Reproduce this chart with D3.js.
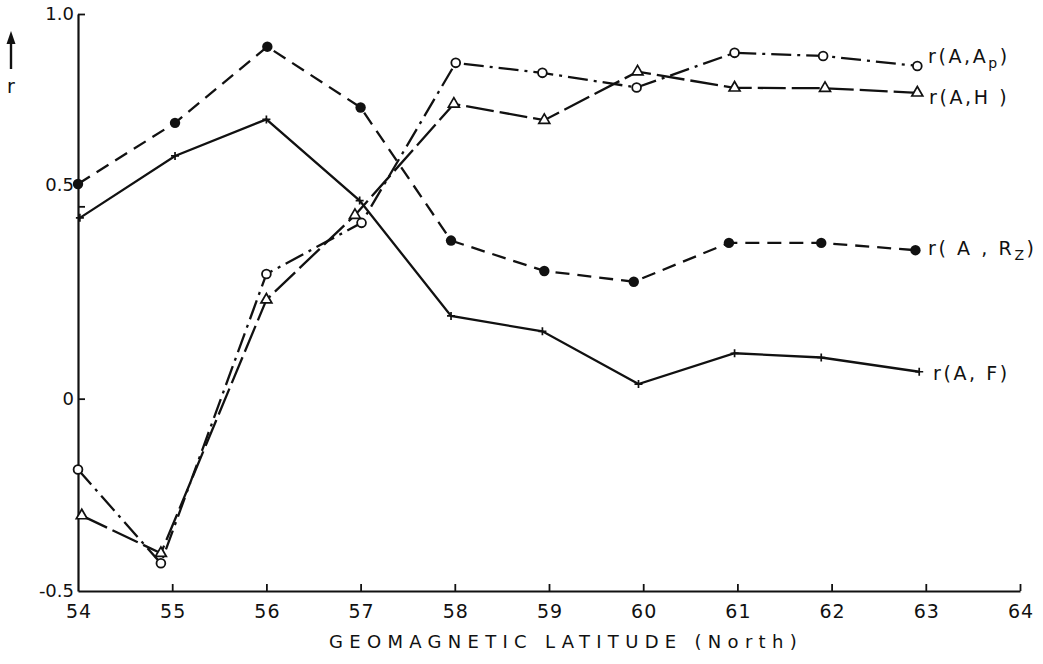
<!DOCTYPE html>
<html>
<head>
<meta charset="utf-8">
<script src="https://cdn.jsdelivr.net/npm/d3@7"></script>
<style>
  html, body { margin: 0; padding: 0; background: #fff; }
  svg { display: block; }
  text { font-family: "DejaVu Sans", sans-serif; fill: #111; }
</style>
</head>
<body>
<svg id="chart" width="1043" height="664"></svg>
<script>
// Correlation r of A with each index, by geomagnetic latitude
const latRz = [54.0, 55.03, 56.01, 57.0, 57.96, 58.95, 59.9, 60.91, 61.89, 62.89];
const rRz   = [0.558, 0.717, 0.915, 0.757, 0.411, 0.332, 0.304, 0.405, 0.405, 0.386];

const latF  = [54.02, 55.03, 56.0, 56.99, 57.96, 58.93, 59.95, 60.97, 61.89, 62.93];
const rF    = [0.470, 0.631, 0.726, 0.515, 0.215, 0.175, 0.038, 0.118, 0.107, 0.070];

const latAp = [54.0, 54.88, 56.0, 57.01, 58.01, 58.93, 59.93, 60.97, 61.91, 62.91];
const rAp   = [-0.184, -0.428, 0.324, 0.457, 0.873, 0.847, 0.809, 0.899, 0.891, 0.865];

const latH  = [54.04, 54.88, 56.0, 56.94, 57.99, 58.95, 59.94, 60.97, 61.93, 62.91];
const rH    = [-0.304, -0.402, 0.257, 0.477, 0.766, 0.724, 0.850, 0.808, 0.807, 0.795];

const xTicks = [54, 55, 56, 57, 58, 59, 60, 61, 62, 63, 64];
const yTicks = [-0.5, 0, 0.5, 1.0];
const xTitle = "GEOMAGNETIC LATITUDE (North)";

const svg = d3.select("#chart");
const x = d3.scaleLinear().domain([54, 64]).range([78, 1020]);
const y = d3.scaleLinear().domain([-0.5, 1.0]).range([591, 14]);

// axes
const xAxis = svg.append("g")
  .attr("transform", `translate(0,${y(-0.5)})`)
  .call(d3.axisBottom(x).tickValues(xTicks).tickSizeInner(-7).tickSizeOuter(0)
        .tickPadding(14).tickFormat(d3.format("d")));
xAxis.select(".domain").attr("stroke", "#111").attr("stroke-width", 2.2);
xAxis.selectAll(".tick line").attr("stroke", "#111").attr("stroke-width", 1.8)
  .filter(d => d === 54).remove();
xAxis.selectAll(".tick text").style("font-size", "19px").style("letter-spacing", "1px")
  .attr("dx", "0.5px").attr("fill", "#111");

const yAxis = svg.append("g")
  .attr("transform", `translate(${x(54)},0)`)
  .call(d3.axisLeft(y).tickValues(yTicks).tickSizeInner(-7).tickSizeOuter(0)
        .tickPadding(4).tickFormat(d => d === 0 ? "0" : d.toFixed(1)));
yAxis.select(".domain").attr("stroke", "#111").attr("stroke-width", 2.2);
yAxis.selectAll(".tick line").attr("stroke", "#111").attr("stroke-width", 1.8)
  .filter(d => d === -0.5).remove();
yAxis.selectAll(".tick text").style("font-size", "18px").attr("fill", "#111");
// the 0.5 label sits a little above its tick
yAxis.selectAll(".tick text").filter(d => d === 0.5).attr("dy", "-0.9em");

// axis titles
svg.append("text")
  .attr("x", (x(54) + x(64)) / 2 + 17).attr("y", 648)
  .attr("text-anchor", "middle")
  .style("font-size", "18px").style("letter-spacing", "6.3px")
  .text(xTitle);

svg.append("line")
  .attr("x1", 11).attr("x2", 11).attr("y1", 69).attr("y2", 40)
  .attr("stroke", "#111").attr("stroke-width", 2.4);
svg.append("path")
  .attr("d", "M11,31 L15.5,44 L6.5,44 Z").attr("fill", "#111");
svg.append("text")
  .attr("x", 11).attr("y", 93).attr("text-anchor", "middle")
  .style("font-size", "19px").text("r");

// series
const series = [
  { lat: latRz, r: rRz, dash: "14,8", marker: "dot" },
  { lat: latF,  r: rF,  dash: null,   marker: "plus" },
  { lat: latAp, r: rAp, dash: "20,6,3,6", marker: "circle" },
  { lat: latH,  r: rH,  dash: "28,6", marker: "triangle" }
];

const line = d3.line().x(d => x(d[0])).y(d => y(d[1]));

series.forEach(s => {
  const pts = s.lat.map((l, i) => [l, s.r[i]]);
  svg.append("path")
    .datum(pts)
    .attr("d", line)
    .attr("fill", "none")
    .attr("stroke", "#111")
    .attr("stroke-width", 2.3)
    .attr("stroke-dasharray", s.dash);

  const g = svg.append("g");
  const m = g.selectAll("g").data(pts).join("g")
    .attr("transform", d => `translate(${x(d[0])},${y(d[1])})`);
  if (s.marker === "dot") {
    m.append("circle").attr("r", 5.2).attr("fill", "#111");
  } else if (s.marker === "circle") {
    m.append("circle").attr("r", 4.4).attr("fill", "#fff")
      .attr("stroke", "#111").attr("stroke-width", 1.8);
  } else if (s.marker === "triangle") {
    m.append("path").attr("d", d3.symbol(d3.symbolTriangle, 52))
      .attr("fill", "#fff").attr("stroke", "#111").attr("stroke-width", 1.7);
  } else {
    m.append("path").attr("d", "M-4,0H4M0,-4V4")
      .attr("stroke", "#111").attr("stroke-width", 1.7);
  }
});

// series labels at the right end
const labels = [
  { x: 928, y: 63,  parts: [["r(A,A", false], ["p", true], [")", false]] },
  { x: 929, y: 104, parts: [["r(A,H )", false]] },
  { x: 928, y: 255, parts: [["r( A , R", false], ["Z", true], [")", false]] },
  { x: 933, y: 380, parts: [["r(A, F)", false]] }
];
labels.forEach(lb => {
  const t = svg.append("text")
    .attr("x", lb.x).attr("y", lb.y)
    .style("font-size", "19px").style("letter-spacing", "2.6px");
  lb.parts.forEach(([str, sub]) => {
    const ts = t.append("tspan").text(str);
    if (sub) ts.attr("dy", 5).style("font-size", "14px");
    else if (t.selectAll("tspan").size() > 1) ts.attr("dy", -5);
  });
});
</script>
</body>
</html>
